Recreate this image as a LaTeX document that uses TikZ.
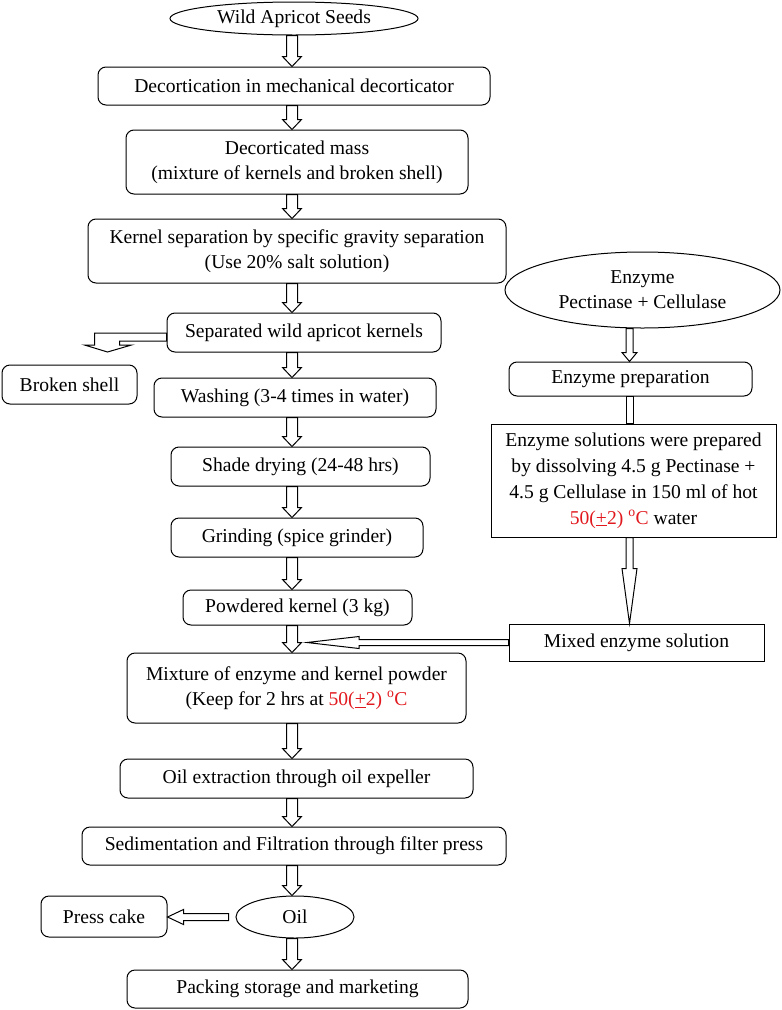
\documentclass[tikz,border=0pt]{standalone}
\usepackage{fontspec}
\setmainfont{Liberation Serif}
\usepackage{tikz}
\usetikzlibrary{shapes.geometric,calc}
\definecolor{tempred}{RGB}{225,25,30}

\begin{document}
\begin{tikzpicture}[x=1pt,y=-1pt,line width=1pt,
  every node/.style={font=\fontsize{19.6}{25}\selectfont, inner sep=0pt, align=center},
  stepbox/.style={draw, rounded corners=8pt},
  sharpbox/.style={draw},
  oval/.style={draw, ellipse}]
  \useasboundingbox (0,0) rectangle (782,1010);
  \def\sh{5.5} % shaft half width of the main arrows
  \def\hh{9.5} % head half width
  \def\hl{10} % head length
  \def\temp{\textcolor{tempred}{50(\underline{+}2) \textsuperscript{o}C}}
  % hollow arrows: start, end, shaft half width, head half width, head length
  \def\dnarr#1#2#3#4#5{\draw let \p1=(#1), \p2=(#2) in
    (\x1-#3pt,\y1) -- (\x1-#3pt,\y2+#5pt) -- (\x1-#4pt,\y2+#5pt) -- (\x1,\y2)
    -- (\x1+#4pt,\y2+#5pt) -- (\x1+#3pt,\y2+#5pt) -- (\x1+#3pt,\y1) -- cycle}
  \def\lfarr#1#2#3#4#5{\draw let \p1=(#1), \p2=(#2) in
    (\x1,\y1+#3pt) -- (\x2+#5pt,\y1+#3pt) -- (\x2+#5pt,\y1+#4pt) -- (\x2,\y1)
    -- (\x2+#5pt,\y1-#4pt) -- (\x2+#5pt,\y1-#3pt) -- (\x1,\y1-#3pt) -- cycle}

  % main line
  \node[oval, minimum width=248, minimum height=33] (seeds) at (294,18.5) {Wild Apricot Seeds};
  \node[stepbox, minimum width=392, minimum height=38] (decort) at (294,86) {Decortication in mechanical decorticator};
  \node[stepbox, minimum width=342, minimum height=64] (mass) at (297,162) {Decorticated mass\\(mixture of kernels and broken shell)};
  \node[stepbox, minimum width=418, minimum height=64] (kernsep) at (297,251) {Kernel separation by specific gravity separation\\(Use 20\% salt solution)};
  \node[stepbox, minimum width=274, minimum height=39] (sepkern) at (304,332.5) {Separated wild apricot kernels};
  \node[stepbox, minimum width=135, minimum height=39] (broken) at (69.5,384.5) {Broken shell};
  \node[stepbox, minimum width=282, minimum height=39] (wash) at (295,397.5) {Washing (3-4 times in water)};
  \node[stepbox, minimum width=259, minimum height=39] (shade) at (300.5,466.5) {Shade drying (24-48 hrs)};
  \node[stepbox, minimum width=252, minimum height=39] (grind) at (297,537.5) {Grinding (spice grinder)};
  \node[stepbox, minimum width=229, minimum height=35] (powder) at (297.5,607.5) {Powdered kernel (3 kg)};
  \node[stepbox, minimum width=339, minimum height=70] (mixture) at (296.5,688) {Mixture of enzyme and kernel powder\\(Keep for 2 hrs at \temp};
  \node[stepbox, minimum width=353, minimum height=39] (oilx) at (296.5,778.5) {Oil extraction through oil expeller};
  \node[stepbox, minimum width=424, minimum height=38] (sed) at (294,846) {Sedimentation and Filtration through filter press};
  \node[oval, minimum width=118, minimum height=42] (oil) at (295,917) {Oil};
  \node[stepbox, minimum width=126, minimum height=41] (press) at (104,916.5) {Press cake};
  \node[stepbox, minimum width=341, minimum height=38] (pack) at (297.5,989) {Packing storage and marketing};

  % enzyme line
  \node[oval, minimum width=275, minimum height=76] (enzyme) at (642.5,290) {Enzyme\\Pectinase + Cellulase};
  \node[stepbox, minimum width=243, minimum height=34] (prep) at (630.5,379) {Enzyme preparation};
  \node[sharpbox, minimum width=285, minimum height=113, font=\fontsize{19.6}{26}\selectfont] (soln) at (633.5,480.5)
    {Enzyme solutions were prepared\\by dissolving 4.5 g Pectinase +\\4.5 g Cellulase in 150 ml of hot\\\temp{} water};
  \node[sharpbox, minimum width=255, minimum height=37] (mixed) at (636.5,642.5) {Mixed enzyme solution};

  \coordinate (spine) at (292,0);
  \coordinate (eline) at (629.5,0);
  \coordinate (mixin) at (307,642);

  % arrows
  \foreach \a/\b in {seeds/decort, decort/mass, mass/kernsep, kernsep/sepkern, sepkern/wash,
      wash/shade, shade/grind, grind/powder, powder/mixture, mixture/oilx, oilx/sed, sed/oil, oil/pack}
    \dnarr{\a.south -| spine}{\b.north -| spine}{\sh}{\hh}{\hl};
  \dnarr{enzyme.south -| eline}{prep.north -| eline}{3.5}{7.5}{9};
  \dnarr{prep.south -| eline}{soln.north -| eline}{3.5}{3.5}{0};
  \dnarr{soln.south -| eline}{mixed.north -| eline}{3.5}{7.5}{55};
  \lfarr{mixed.west}{mixin}{3}{6}{52};
  \lfarr{[xshift=-7pt]oil.west}{press.east}{3.5}{7.5}{16};
  % bent arrow to the broken shell
  \draw ($(sepkern.west)+(0,0.5)$) -- ++(-72,0) -- ++(0,12) -- ++(-10,0) -- ++(23,7)
    -- ++(24,-7) -- ++(-12,0) -- ++(0,-4) -- ++(47,0) -- cycle;
\end{tikzpicture}
\end{document}
